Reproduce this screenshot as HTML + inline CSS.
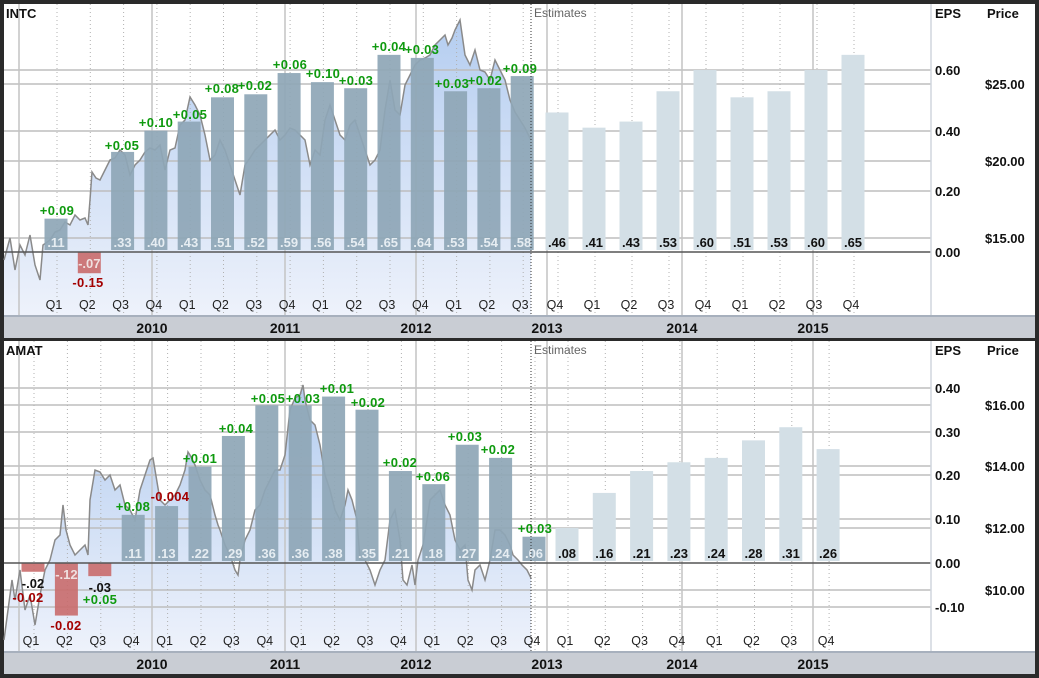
<!DOCTYPE html>
<html><head><meta charset="utf-8"><style>
html,body{margin:0;padding:0;background:#2a2a2a;}
svg{display:block;font-family:"Liberation Sans",sans-serif;}
</style></head><body>
<svg id="s" width="1039" height="678" xmlns="http://www.w3.org/2000/svg">
<defs>
<linearGradient id="g" x1="0" y1="0" x2="0" y2="1"><stop offset="0" stop-color="#b4cdf0"/><stop offset="1" stop-color="#eef2fb"/></linearGradient>
</defs>
<rect width="1039" height="678" fill="#2a2a2a"/>
</svg>
<script>
var S=document.getElementById('s'),NS='http://www.w3.org/2000/svg';
function el(t,a,txt){var e=document.createElementNS(NS,t);for(var k in a)e.setAttribute(k,a[k]);if(txt!=null)e.textContent=txt;S.appendChild(e);return e;}
function panel(P){
 var T=P.top,B=P.bot;
 el('rect',{x:4,y:T,width:1031,height:B-T,fill:'#fff'});
 var pts=P.price,d='M'+pts[0][0]+','+B;pts.forEach(function(p){d+=' L'+p[0]+','+p[1];});d+=' L'+pts[pts.length-1][0]+','+B+' Z';
 el('path',{d:d,fill:'url(#g)'});
 P.hl.forEach(function(y){el('line',{x1:4,x2:931,y1:y,y2:y,stroke:'#bdbdbd','stroke-width':1.5});});
 [19,152,285,416,547,682,813].forEach(function(x){el('line',{x1:x,x2:x,y1:T,y2:B,stroke:'#c4c4c4','stroke-width':1.5});});
 P.qx.forEach(function(x){el('line',{x1:x+1,x2:x+1,y1:T,y2:B,stroke:'#b0b0b0','stroke-width':1,'stroke-dasharray':'1,3'});});
 var l='';pts.forEach(function(p,i){l+=(i?' L':'M')+p[0]+','+p[1];});
 el('path',{d:l,fill:'none',stroke:'#8a8a8a','stroke-width':1.5});
 var z=P.zero,k=P.k;
 P.vals.forEach(function(v,i){
  var x=P.qx[i],est=i>=P.nAct,w=23;
  var fill=est?'#d3dfe6':(v<0?'#c96b6b':'#8ea6b6');
  var op=est?1:(v<0?0.9:0.92);
  if(v>=0){var top=z-v*k;el('rect',{x:x-w/2,y:top,width:w,height:z-2-top,fill:fill,opacity:op});}
  else{el('rect',{x:x-w/2,y:z,width:w,height:-v*k,fill:fill,opacity:op});}
  var lab=(v<0?'-':'')+'.'+String(Math.round(Math.abs(v)*100)).padStart(2,'0');
  if(v>=0) el('text',{x:x,y:z-5,'text-anchor':'middle','font-size':13,'font-weight':'bold',fill:est?'#111':'#e6edf2'},lab);
  else if(P.negIn&&P.negIn[i]) el('text',{x:x,y:z+P.negIn[i],'text-anchor':'middle','font-size':13,'font-weight':'bold',fill:'#f0e0e0'},lab);
  else el('text',{x:x,y:z-v*k+16,'text-anchor':'middle','font-size':13,'font-weight':'bold',fill:'#111'},lab);
 });
 P.sur.forEach(function(s){el('text',{x:s[0],y:s[1],'text-anchor':'middle','font-size':13,'font-weight':'bold',fill:s[2]=='r'?'#a30000':'#0f9a0f','letter-spacing':'0.3'},s[3]);});
 el('line',{x1:531,x2:531,y1:T,y2:B,stroke:'#333','stroke-width':1,'stroke-dasharray':'1,2'});
 el('text',{x:534,y:T+13,'font-size':12,fill:'#666'},'Estimates');
 el('line',{x1:4,x2:931,y1:z,y2:z,stroke:'#555','stroke-width':1.5});
 el('line',{x1:931,x2:931,y1:T,y2:B+1,stroke:'#d0d6de','stroke-width':1.5});
 el('text',{x:935,y:T+14,'font-size':13,'font-weight':'bold',fill:'#111'},'EPS');
 el('text',{x:987,y:T+14,'font-size':13,'font-weight':'bold',fill:'#111'},'Price');
 P.eps.forEach(function(e){el('text',{x:935,y:e[0]+5,'font-size':13,'font-weight':'bold',fill:'#111'},e[1]);});
 P.pr.forEach(function(e){el('text',{x:985,y:e[0]+5,'font-size':13,'font-weight':'bold',fill:'#111'},e[1]);});
 el('text',{x:6,y:T+14,'font-size':13,'font-weight':'bold',fill:'#111'},P.name);
 P.qx.forEach(function(x,i){el('text',{x:x-2,y:B-7,'text-anchor':'middle','font-size':12.5,fill:'#222'},'Q'+((i+P.q0)%4+1));});
 el('rect',{x:4,y:B,width:1031,height:22,fill:'#c9cdd4'});
 el('line',{x1:4,x2:1035,y1:B,y2:B,stroke:'#a7b0bd','stroke-width':2});
 [[152,'2010'],[285,'2011'],[416,'2012'],[547,'2013'],[682,'2014'],[813,'2015']].forEach(function(y){el('text',{x:y[0],y:B+17,'text-anchor':'middle','font-size':14,'font-weight':'bold',fill:'#111'},y[1]);});
}
function qs(a,n,s1,b,m,s2){var r=[];for(var i=0;i<n;i++)r.push(a+i*s1);for(var j=0;j<m;j++)r.push(b+j*s2);return r;}
function P(arr){var r=[];for(var i=0;i<arr.length;i+=2)r.push([arr[i],arr[i+1]]);return r;}
var topPrice=P([4,260,10,238,15,270,20,245,25,255,30,235,35,265,40,280,43,245,50,240,55,232,60,230,65,222,70,225,75,215,80,220,85,218,88,225,90,200,92,172,96,178,100,180,105,170,110,160,115,158,120,150,125,155,130,175,135,165,140,160,145,152,150,148,155,150,160,145,165,170,170,150,175,148,180,125,185,120,190,97,195,105,200,115,205,135,210,160,215,155,220,140,225,150,230,165,235,180,240,195,245,165,250,158,255,150,260,145,265,140,270,135,275,130,280,140,285,135,290,128,295,130,300,135,305,140,310,165,315,150,320,155,325,120,330,105,335,120,340,135,345,140,350,125,355,120,360,135,365,150,370,165,375,160,380,150,385,110,390,80,395,110,400,115,405,85,410,75,415,65,420,60,425,58,430,55,435,45,440,40,445,35,448,45,452,38,455,30,460,20,465,55,470,65,475,50,480,70,485,72,490,80,495,60,500,70,505,80,510,100,515,112,520,120,525,128,531,140]);
panel({top:4,bot:316,name:'INTC',zero:252,k:303.3,nAct:15,q0:0,
 qx:qs(56,15,33.3,557,9,37),
 vals:[.11,-.07,.33,.40,.43,.51,.52,.59,.56,.54,.65,.64,.53,.54,.58,.46,.41,.43,.53,.60,.51,.53,.60,.65],
 negIn:{1:16},
 hl:[70,84,131,161,191,238],
 price:topPrice,
 sur:[[57,215,'g','+0.09'],[88,287,'r','-0.15'],[122,150,'g','+0.05'],[156,127,'g','+0.10'],[190,119,'g','+0.05'],[222,93,'g','+0.08'],[255,90,'g','+0.02'],[290,69,'g','+0.06'],[323,78,'g','+0.10'],[356,85,'g','+0.03'],[389,51,'g','+0.04'],[422,54,'g','+0.03'],[452,88,'g','+0.03'],[485,85,'g','+0.02'],[520,73,'g','+0.09']],
 eps:[[70,'0.60'],[131,'0.40'],[191,'0.20'],[252,'0.00']],
 pr:[[84,'$25.00'],[161,'$20.00'],[238,'$15.00']]});
var botPrice=P([4,640,8,610,12,580,15,600,20,570,25,610,30,595,35,625,40,595,45,570,50,560,55,540,60,535,63,505,66,530,70,545,75,555,80,550,85,545,88,555,90,500,95,470,100,472,105,480,110,475,115,490,120,485,125,505,130,510,135,520,140,490,145,475,150,460,153,458,155,470,160,500,165,505,170,500,175,495,180,485,185,470,188,452,190,455,195,465,200,480,205,490,210,495,215,515,218,525,220,530,225,545,230,555,235,570,238,575,240,560,245,540,250,530,255,510,260,505,265,490,270,480,275,470,280,470,285,455,290,410,295,398,300,395,303,385,305,400,310,420,315,425,320,445,325,475,330,490,335,510,340,520,345,505,348,490,352,500,357,520,360,560,365,560,370,570,375,585,380,570,385,560,390,520,395,510,400,540,403,580,407,585,412,565,415,585,418,560,423,545,427,520,430,500,435,495,440,490,445,505,450,515,455,540,460,550,465,545,468,580,472,590,475,570,480,565,485,580,490,560,495,530,500,530,505,535,510,545,513,555,518,560,522,565,527,570,531,578]);
panel({top:341,bot:652,name:'AMAT',zero:563,k:438,nAct:16,q0:0,
 qx:qs(33,16,33.4,567,8,37.3),
 vals:[-.02,-.12,-.03,.11,.13,.22,.29,.36,.36,.38,.35,.21,.18,.27,.24,.06,.08,.16,.21,.23,.24,.28,.31,.26],
 negIn:{1:16},
 hl:[388,405,432,466,475,519,528,590,607],
 price:botPrice,
 sur:[[28,602,'r','-0.02'],[66,630,'r','-0.02'],[100,604,'g','+0.05'],[133,511,'g','+0.08'],[170,501,'r','-0.004'],[200,463,'g','+0.01'],[236,433,'g','+0.04'],[268,403,'g','+0.05'],[303,403,'g','+0.03'],[337,393,'g','+0.01'],[368,407,'g','+0.02'],[400,467,'g','+0.02'],[433,481,'g','+0.06'],[465,441,'g','+0.03'],[498,454,'g','+0.02'],[535,533,'g','+0.03']],
 eps:[[388,'0.40'],[432,'0.30'],[475,'0.20'],[519,'0.10'],[563,'0.00'],[607,'-0.10']],
 pr:[[405,'$16.00'],[466,'$14.00'],[528,'$12.00'],[590,'$10.00']]});
</script>
</body></html>
